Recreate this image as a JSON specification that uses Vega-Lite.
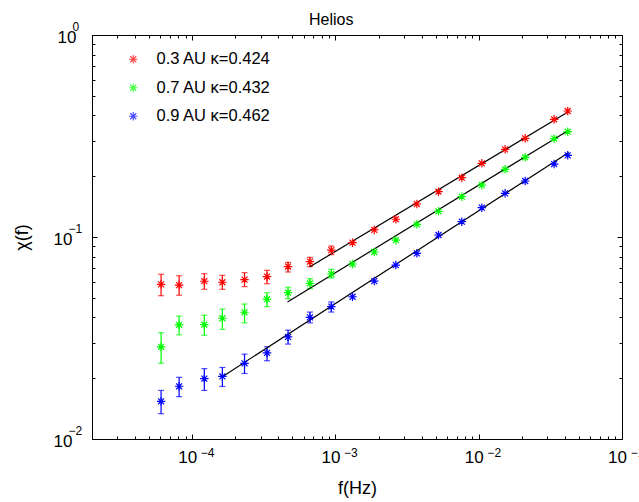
{
  "$schema": "https://vega.github.io/schema/vega-lite/v6.json",
  "width": 530,
  "height": 404,
  "autosize": {"type": "none"},
  "padding": {"left": 92, "top": 35, "right": 17, "bottom": 63},
  "background": "white",
  "title": {"text": "Helios", "fontSize": 16, "fontWeight": "normal", "font": "Liberation Sans", "color": "black", "offset": 9, "dy": 17, "anchor": "start", "frame": "group", "dx": 217},
  "config": {
    "view": {"stroke": null},
    "axis": {"grid": false, "domainColor": "black", "tickColor": "black", "labelColor": "black", "titleColor": "black", "labelFont": "Liberation Sans", "titleFont": "Liberation Sans", "labelFontSize": 17, "titleFontSize": 18, "titleFontWeight": "normal", "labelFlush": false, "labelOverlap": false, "domainWidth": 1, "tickWidth": 1}
  },
  "datasets": {
    "pts": [
      {"series": "0.3 AU κ=0.424", "f": 6.07e-5, "chi": 0.0583, "lo": 0.0512, "hi": 0.0654},
      {"series": "0.3 AU κ=0.424", "f": 8.11e-5, "chi": 0.0578, "lo": 0.0515, "hi": 0.0643},
      {"series": "0.3 AU κ=0.424", "f": 1.216e-4, "chi": 0.0604, "lo": 0.0551, "hi": 0.0658},
      {"series": "0.3 AU κ=0.424", "f": 1.625e-4, "chi": 0.0597, "lo": 0.0551, "hi": 0.0646},
      {"series": "0.3 AU κ=0.424", "f": 2.32e-4, "chi": 0.0615, "lo": 0.0568, "hi": 0.0666},
      {"series": "0.3 AU κ=0.424", "f": 3.33e-4, "chi": 0.0637, "lo": 0.0587, "hi": 0.0684},
      {"series": "0.3 AU κ=0.424", "f": 4.67e-4, "chi": 0.0714, "lo": 0.0671, "hi": 0.0749},
      {"series": "0.3 AU κ=0.424", "f": 6.64e-4, "chi": 0.0755, "lo": 0.0713, "hi": 0.0793},
      {"series": "0.3 AU κ=0.424", "f": 9.36e-4, "chi": 0.0861, "lo": 0.0818, "hi": 0.0902},
      {"series": "0.3 AU κ=0.424", "f": 1.316e-3, "chi": 0.0937},
      {"series": "0.3 AU κ=0.424", "f": 1.866e-3, "chi": 0.1084},
      {"series": "0.3 AU κ=0.424", "f": 2.64e-3, "chi": 0.1224},
      {"series": "0.3 AU κ=0.424", "f": 3.70e-3, "chi": 0.1457},
      {"series": "0.3 AU κ=0.424", "f": 5.24e-3, "chi": 0.1676},
      {"series": "0.3 AU κ=0.424", "f": 7.62e-3, "chi": 0.1966},
      {"series": "0.3 AU κ=0.424", "f": 1.051e-2, "chi": 0.2317},
      {"series": "0.3 AU κ=0.424", "f": 1.528e-2, "chi": 0.2716},
      {"series": "0.3 AU κ=0.424", "f": 2.11e-2, "chi": 0.3081},
      {"series": "0.3 AU κ=0.424", "f": 3.36e-2, "chi": 0.3826},
      {"series": "0.3 AU κ=0.424", "f": 4.18e-2, "chi": 0.4205},
      {"series": "0.7 AU κ=0.432", "f": 6.07e-5, "chi": 0.0286, "lo": 0.0237, "hi": 0.0336},
      {"series": "0.7 AU κ=0.432", "f": 8.11e-5, "chi": 0.0367, "lo": 0.0328, "hi": 0.0406},
      {"series": "0.7 AU κ=0.432", "f": 1.216e-4, "chi": 0.0368, "lo": 0.0326, "hi": 0.0410},
      {"series": "0.7 AU κ=0.432", "f": 1.625e-4, "chi": 0.0396, "lo": 0.0349, "hi": 0.0440},
      {"series": "0.7 AU κ=0.432", "f": 2.32e-4, "chi": 0.0424, "lo": 0.0376, "hi": 0.0466},
      {"series": "0.7 AU κ=0.432", "f": 3.33e-4, "chi": 0.0492, "lo": 0.0452, "hi": 0.0530},
      {"series": "0.7 AU κ=0.432", "f": 4.67e-4, "chi": 0.0530, "lo": 0.0495, "hi": 0.0564},
      {"series": "0.7 AU κ=0.432", "f": 6.64e-4, "chi": 0.0590, "lo": 0.0555, "hi": 0.0622},
      {"series": "0.7 AU κ=0.432", "f": 9.36e-4, "chi": 0.0656, "lo": 0.0627, "hi": 0.0692},
      {"series": "0.7 AU κ=0.432", "f": 1.316e-3, "chi": 0.0735},
      {"series": "0.7 AU κ=0.432", "f": 1.866e-3, "chi": 0.0843},
      {"series": "0.7 AU κ=0.432", "f": 2.64e-3, "chi": 0.0964},
      {"series": "0.7 AU κ=0.432", "f": 3.70e-3, "chi": 0.1156},
      {"series": "0.7 AU κ=0.432", "f": 5.24e-3, "chi": 0.1340},
      {"series": "0.7 AU κ=0.432", "f": 7.62e-3, "chi": 0.1584},
      {"series": "0.7 AU κ=0.432", "f": 1.051e-2, "chi": 0.1805},
      {"series": "0.7 AU κ=0.432", "f": 1.528e-2, "chi": 0.2163},
      {"series": "0.7 AU κ=0.432", "f": 2.11e-2, "chi": 0.2481},
      {"series": "0.7 AU κ=0.432", "f": 3.36e-2, "chi": 0.3069},
      {"series": "0.7 AU κ=0.432", "f": 4.18e-2, "chi": 0.3321},
      {"series": "0.9 AU κ=0.462", "f": 6.07e-5, "chi": 0.01537, "lo": 0.01334, "hi": 0.0174},
      {"series": "0.9 AU κ=0.462", "f": 8.11e-5, "chi": 0.01824, "lo": 0.0162, "hi": 0.0202},
      {"series": "0.9 AU κ=0.462", "f": 1.216e-4, "chi": 0.0199, "lo": 0.0174, "hi": 0.0223},
      {"series": "0.9 AU κ=0.462", "f": 1.625e-4, "chi": 0.0204, "lo": 0.0182, "hi": 0.0226},
      {"series": "0.9 AU κ=0.462", "f": 2.32e-4, "chi": 0.0237, "lo": 0.0211, "hi": 0.0263},
      {"series": "0.9 AU κ=0.462", "f": 3.33e-4, "chi": 0.0267, "lo": 0.0244, "hi": 0.0286},
      {"series": "0.9 AU κ=0.462", "f": 4.67e-4, "chi": 0.0320, "lo": 0.0295, "hi": 0.0346},
      {"series": "0.9 AU κ=0.462", "f": 6.64e-4, "chi": 0.0400, "lo": 0.0376, "hi": 0.0425},
      {"series": "0.9 AU κ=0.462", "f": 9.36e-4, "chi": 0.0452, "lo": 0.0425, "hi": 0.0477},
      {"series": "0.9 AU κ=0.462", "f": 1.316e-3, "chi": 0.0506},
      {"series": "0.9 AU κ=0.462", "f": 1.866e-3, "chi": 0.0605},
      {"series": "0.9 AU κ=0.462", "f": 2.64e-3, "chi": 0.0726},
      {"series": "0.9 AU κ=0.462", "f": 3.70e-3, "chi": 0.0830},
      {"series": "0.9 AU κ=0.462", "f": 5.24e-3, "chi": 0.1023},
      {"series": "0.9 AU κ=0.462", "f": 7.62e-3, "chi": 0.1191},
      {"series": "0.9 AU κ=0.462", "f": 1.051e-2, "chi": 0.1397},
      {"series": "0.9 AU κ=0.462", "f": 1.528e-2, "chi": 0.1645},
      {"series": "0.9 AU κ=0.462", "f": 2.11e-2, "chi": 0.1893},
      {"series": "0.9 AU κ=0.462", "f": 3.36e-2, "chi": 0.2297},
      {"series": "0.9 AU κ=0.462", "f": 4.18e-2, "chi": 0.2536}
    ],
    "fits": [
      {"series": "0.3 AU κ=0.424", "f": 6.64e-4, "chi": 0.0713},
      {"series": "0.3 AU κ=0.424", "f": 4.25e-2, "chi": 0.418},
      {"series": "0.7 AU κ=0.432", "f": 4.63e-4, "chi": 0.0477},
      {"series": "0.7 AU κ=0.432", "f": 4.25e-2, "chi": 0.338},
      {"series": "0.9 AU κ=0.462", "f": 1.616e-4, "chi": 0.0203},
      {"series": "0.9 AU κ=0.462", "f": 4.25e-2, "chi": 0.262}
    ]
  },
  "resolve": {"axis": {"x": "independent", "y": "independent"}},
  "layer": [
    {
      "data": {"name": "pts"},
      "mark": {"type": "rule", "strokeWidth": 1.2},
      "encoding": {
        "x": {"field": "f", "type": "quantitative", "scale": {"type": "log", "domain": [2e-5, 0.1], "nice": false},
          "axis": {"orient": "bottom", "values": [0.0001, 0.001, 0.01, 0.1], "tickSize": -5, "labelExpr": "'10'", "labelAlign": "center", "labelBaseline": "alphabetic", "labelPadding": 28, "labelOffset": -5, "title": "f(Hz)", "titleBaseline": "alphabetic", "titleY": 54}},
        "y": {"field": "lo", "type": "quantitative", "scale": {"type": "log", "domain": [0.01, 1], "nice": false},
          "axis": {"orient": "left", "values": [0.01, 0.1, 1], "tickSize": -5, "labelExpr": "'10'", "labelAlign": "right", "labelBaseline": "alphabetic", "labelOffset": 7, "labelPadding": {"condition": {"test": "datum.value > 0.5", "value": 21}, "value": 25}, "title": "χ(f)", "titleBaseline": "middle", "titleX": -70, "titleY": 202, "titleAngle": -90}},
        "y2": {"field": "hi"},
        "color": {"field": "series", "type": "nominal"}
      }
    },
    {
      "data": {"name": "pts"},
      "mark": {"type": "tick", "orient": "horizontal", "size": 6, "thickness": 1.2},
      "encoding": {
        "x": {"field": "f", "type": "quantitative", "scale": {"type": "log", "domain": [2e-5, 0.1], "nice": false},
          "axis": {"orient": "top", "values": [0.0001, 0.001, 0.01, 0.1], "tickSize": -5, "labels": false, "title": null}},
        "y": {"field": "lo", "type": "quantitative", "scale": {"type": "log", "domain": [0.01, 1], "nice": false},
          "axis": {"orient": "right", "values": [0.01, 0.1, 1], "tickSize": -5, "labels": false, "title": null}},
        "color": {"field": "series", "type": "nominal"}
      }
    },
    {
      "data": {"name": "pts"},
      "mark": {"type": "tick", "orient": "horizontal", "size": 6, "thickness": 1.2},
      "encoding": {
        "x": {"field": "f", "type": "quantitative", "scale": {"type": "log", "domain": [2e-5, 0.1], "nice": false},
          "axis": {"orient": "bottom", "values": [2e-5, 3e-5, 4e-5, 5e-5, 6e-5, 7e-5, 8e-5, 9e-5, 2e-4, 3e-4, 4e-4, 5e-4, 6e-4, 7e-4, 8e-4, 9e-4, 2e-3, 3e-3, 4e-3, 5e-3, 6e-3, 7e-3, 8e-3, 9e-3, 2e-2, 3e-2, 4e-2, 5e-2, 6e-2, 7e-2, 8e-2, 9e-2], "tickSize": -3, "labels": false, "domain": false, "title": null}},
        "y": {"field": "hi", "type": "quantitative", "scale": {"type": "log", "domain": [0.01, 1], "nice": false},
          "axis": {"orient": "left", "values": [0.02, 0.03, 0.04, 0.05, 0.06, 0.07, 0.08, 0.09, 0.2, 0.3, 0.4, 0.5, 0.6, 0.7, 0.8, 0.9], "tickSize": -3, "labels": false, "domain": false, "title": null}},
        "color": {"field": "series", "type": "nominal"}
      }
    },
    {
      "data": {"name": "fits"},
      "mark": {"type": "line", "color": "black", "strokeWidth": 1.2},
      "encoding": {
        "x": {"field": "f", "type": "quantitative", "scale": {"type": "log", "domain": [2e-5, 0.1], "nice": false},
          "axis": {"orient": "top", "values": [2e-5, 3e-5, 4e-5, 5e-5, 6e-5, 7e-5, 8e-5, 9e-5, 2e-4, 3e-4, 4e-4, 5e-4, 6e-4, 7e-4, 8e-4, 9e-4, 2e-3, 3e-3, 4e-3, 5e-3, 6e-3, 7e-3, 8e-3, 9e-3, 2e-2, 3e-2, 4e-2, 5e-2, 6e-2, 7e-2, 8e-2, 9e-2], "tickSize": -3, "labels": false, "domain": false, "title": null}},
        "y": {"field": "chi", "type": "quantitative", "scale": {"type": "log", "domain": [0.01, 1], "nice": false},
          "axis": {"orient": "right", "values": [0.02, 0.03, 0.04, 0.05, 0.06, 0.07, 0.08, 0.09, 0.2, 0.3, 0.4, 0.5, 0.6, 0.7, 0.8, 0.9], "tickSize": -3, "labels": false, "domain": false, "title": null}},
        "detail": {"field": "series", "type": "nominal"}
      }
    },
    {
      "data": {"name": "pts"},
      "mark": {"type": "point", "shape": "M-1,0L1,0M0,-1L0,1M-0.7,-0.7L0.7,0.7M-0.7,0.7L0.7,-0.7", "filled": false, "size": 72, "strokeWidth": 1.2, "opacity": 1},
      "encoding": {
        "x": {"field": "f", "type": "quantitative", "scale": {"type": "log", "domain": [2e-5, 0.1], "nice": false},
          "axis": {"orient": "bottom", "values": [0.0001, 0.001, 0.01, 0.1], "ticks": false, "domain": false, "labelExpr": "datum.value < 0.0005 ? '−4' : datum.value < 0.005 ? '−3' : datum.value < 0.05 ? '−2' : '−1'", "labelFontSize": 12, "labelAlign": "center", "labelBaseline": "alphabetic", "labelPadding": 17, "labelOffset": 15, "title": null}},
        "y": {"field": "chi", "type": "quantitative", "scale": {"type": "log", "domain": [0.01, 1], "nice": false},
          "axis": {"orient": "left", "values": [0.01, 0.1, 1], "ticks": false, "domain": false, "labelExpr": "datum.value < 0.05 ? '−2' : datum.value < 0.5 ? '−1' : '0'", "labelFontSize": 12, "labelAlign": "left", "labelBaseline": "alphabetic", "labelOffset": -5, "labelPadding": {"condition": {"test": "datum.value > 0.5", "value": 20}, "value": 24}, "title": null}},
        "color": {"field": "series", "type": "nominal",
          "scale": {"domain": ["0.3 AU κ=0.424", "0.7 AU κ=0.432", "0.9 AU κ=0.462"], "range": ["#ff0000", "#00ff00", "#0000ff"]},
          "legend": {"orient": "none", "legendX": 33, "legendY": 16, "title": null, "padding": 0, "labelFont": "Liberation Sans", "labelFontSize": 16.5, "labelColor": "black", "labelOffset": 15, "rowPadding": 11.5, "symbolType": "M-1,0L1,0M0,-1L0,1M-0.7,-0.7L0.7,0.7M-0.7,0.7L0.7,-0.7", "symbolSize": 72, "symbolStrokeWidth": 1.2, "symbolFillColor": "transparent"}}
      }
    }
  ]
}
